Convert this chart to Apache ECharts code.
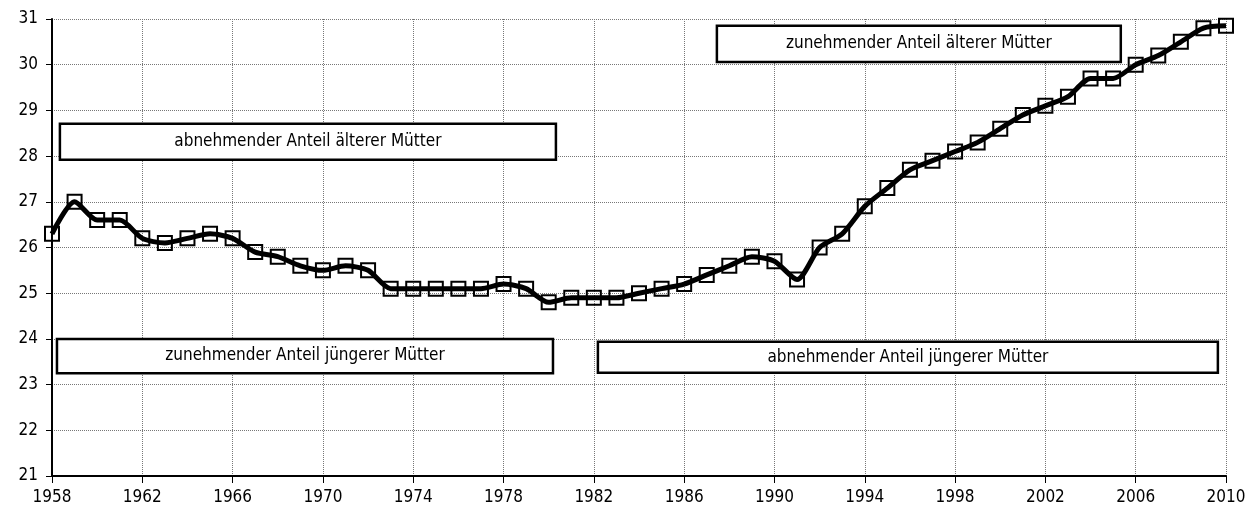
<!DOCTYPE html>
<html>
<head>
<meta charset="utf-8">
<script src="https://cdn.jsdelivr.net/npm/echarts@6/dist/echarts.min.js"></script>
<style>
  html, body { margin: 0; padding: 0; background: #fff; }
  #chart { width: 1250px; height: 513px; }
</style>
</head>
<body>
<div id="chart"></div>
<script>
const years = [1958, 1959, 1960, 1961, 1962, 1963, 1964, 1965, 1966, 1967, 1968, 1969, 1970,
  1971, 1972, 1973, 1974, 1975, 1976, 1977, 1978, 1979, 1980, 1981, 1982, 1983, 1984,
  1985, 1986, 1987, 1988, 1989, 1990, 1991, 1992, 1993, 1994, 1995, 1996, 1997, 1998,
  1999, 2000, 2001, 2002, 2003, 2004, 2005, 2006, 2007, 2008, 2009, 2010]
const ages = [26.3, 27.0, 26.6, 26.6, 26.2, 26.1, 26.2, 26.3, 26.2, 25.9, 25.8, 25.6, 25.5,
  25.6, 25.5, 25.1, 25.1, 25.1, 25.1, 25.1, 25.2, 25.1, 24.8, 24.9, 24.9, 24.9, 25.0,
  25.1, 25.2, 25.4, 25.6, 25.8, 25.7, 25.3, 26.0, 26.3, 26.9, 27.3, 27.7, 27.9, 28.1,
  28.3, 28.6, 28.9, 29.1, 29.3, 29.7, 29.7, 30.0, 30.2, 30.5, 30.8, 30.85]
const boxLabels = [
  'abnehmender Anteil älterer Mütter',
  'zunehmender Anteil älterer Mütter',
  'zunehmender Anteil jüngerer Mütter',
  'abnehmender Anteil jüngerer Mütter'
]

const font = '"DejaVu Sans Condensed", "Liberation Sans", sans-serif'
const chart = echarts.init(document.getElementById('chart'))

// annotation boxes in data coordinates (year, age)
const boxes = [
  [[1958.35, 28.71], [1980.32, 27.92]],
  [[1987.45, 30.85], [2005.34, 30.06]],
  [[1958.22, 24.0], [1980.19, 23.25]],
  [[1982.18, 23.94], [2009.64, 23.26]]
]

const option = {
  animation: false,
  backgroundColor: '#fff',
  grid: { left: 52, right: 24, top: 19, bottom: 37 },
  xAxis: {
    type: 'value',
    min: 1958,
    max: 2010,
    interval: 4,
    axisLine: { lineStyle: { color: '#000', width: 2 } },
    axisTick: { show: true, inside: false, length: 7, lineStyle: { color: '#000', width: 1 } },
    axisLabel: { color: '#000', fontFamily: font, fontSize: 17, margin: 13, formatter: v => String(v) },
    splitLine: { show: true, lineStyle: { color: '#777', type: [1, 1], width: 1 } }
  },
  yAxis: {
    type: 'value',
    min: 21,
    max: 31,
    interval: 1,
    axisLine: { show: true, lineStyle: { color: '#000', width: 2 } },
    axisTick: { show: true, length: 6, lineStyle: { color: '#000', width: 1 } },
    axisLabel: { color: '#000', fontFamily: font, fontSize: 17, margin: 14 },
    splitLine: { show: true, lineStyle: { color: '#777', type: [1, 1], width: 1 } }
  },
  series: [
    {
      type: 'line',
      data: years.map((y, i) => [y, ages[i]]),
      smooth: 0.25,
      symbol: 'rect',
      symbolSize: 14,
      showAllSymbol: true,
      lineStyle: { color: '#000', width: 5 },
      itemStyle: { color: 'rgba(0,0,0,0)', borderColor: '#000', borderWidth: 2 },
      z: 3,
      markArea: {
        silent: true,
        itemStyle: { color: '#fff', borderColor: '#000', borderWidth: 2.5 },
        label: {
          show: true,
          position: 'inside',
          color: '#000',
          fontFamily: font,
          fontSize: 17
        },
        data: boxes.map((b, i) => [
          { name: boxLabels[i], coord: b[0] },
          { coord: b[1] }
        ])
      }
    }
  ]
}
option && chart.setOption(option)
</script>
</body>
</html>
